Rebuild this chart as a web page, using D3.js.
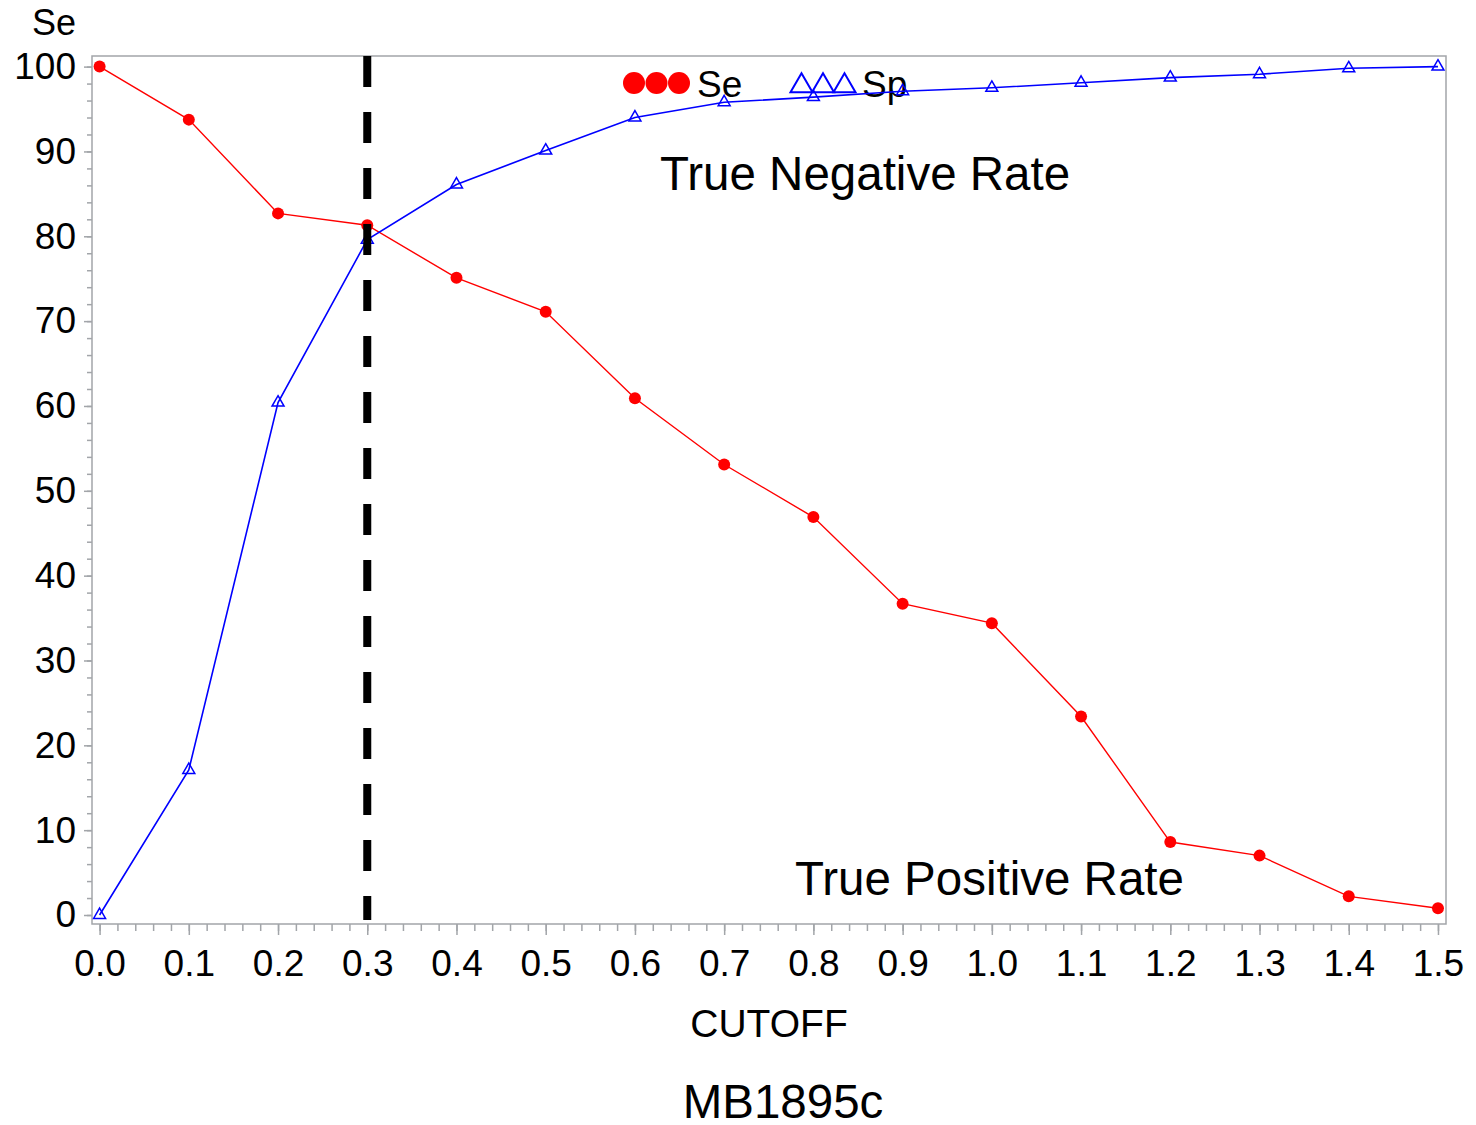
<!DOCTYPE html>
<html>
<head>
<meta charset="utf-8">
<title>MB1895c cutoff</title>
<script src="https://cdn.jsdelivr.net/npm/d3@7"></script>
<style>
  body { margin: 0; background: #fff; }
  svg text { font-family: "Liberation Sans", Arial, sans-serif; fill: #000; }
  .axis path, .axis line { stroke: #a2a5a9; stroke-width: 1.5; fill: none; }
  .axis text { font-size: 37px; }
</style>
</head>
<body>
<script>
// data
var cutoffs = [0.0, 0.1, 0.2, 0.3, 0.4, 0.5, 0.6, 0.7, 0.8, 0.9, 1.0, 1.1, 1.2, 1.3, 1.4, 1.5];
var se = [100, 93.75, 82.7, 81.3, 75.1, 71.1, 60.9, 53.1, 46.9, 36.7, 34.4, 23.4, 8.6, 7.0, 2.2, 0.8];
var sp = [0, 17.1, 60.4, 79.6, 86.1, 90.1, 94.0, 95.8, 96.4, 97.1, 97.5, 98.1, 98.7, 99.1, 99.8, 100];
var yTicks = [0, 10, 20, 30, 40, 50, 60, 70, 80, 90, 100];
var chosenCutoff = 0.3;

var w = 1476, h = 1125;
var pLeft = 92, pRight = 1446, pTop = 56, pBottom = 924;

var svg = d3.select("body").append("svg")
  .attr("width", w).attr("height", h);

var x = d3.scaleLinear().domain([-0.0085, 1.509]).range([pLeft, pRight]);
var y = d3.scaleLinear().domain([-1.06, 101.25]).range([pBottom, pTop]);

// minor ticks
var xMinor = d3.range(0, 76).map(function(i) { return i * 0.02; });
var yMinor = d3.range(0, 51).map(function(i) { return i * 2; });

svg.append("g").attr("class", "axis")
  .attr("transform", "translate(0," + pBottom + ")")
  .call(d3.axisBottom(x).tickValues(xMinor).tickSize(7).tickFormat(""))
  .select(".domain").remove();
svg.append("g").attr("class", "axis")
  .attr("transform", "translate(" + pLeft + ",0)")
  .call(d3.axisLeft(y).tickValues(yMinor).tickSize(5).tickFormat(""))
  .select(".domain").remove();

// major ticks + labels
svg.append("g").attr("class", "axis")
  .attr("transform", "translate(0," + pBottom + ")")
  .call(d3.axisBottom(x).tickValues(cutoffs).tickSize(11).tickPadding(15)
        .tickFormat(d3.format(".1f")))
  .select(".domain").remove();
svg.append("g").attr("class", "axis")
  .attr("transform", "translate(" + pLeft + ",0)")
  .call(d3.axisLeft(y).tickValues(yTicks).tickSize(8).tickPadding(8))
  .select(".domain").remove();

// frame
svg.append("rect")
  .attr("x", pLeft).attr("y", pTop)
  .attr("width", pRight - pLeft).attr("height", pBottom - pTop)
  .attr("fill", "none").attr("stroke", "#a2a5a9").attr("stroke-width", 1.5);

// legend
var legSe = [634, 656.5, 679];
svg.selectAll(".legse").data(legSe).enter().append("circle")
  .attr("cx", function(d) { return d; }).attr("cy", 83).attr("r", 11)
  .attr("fill", "#ff0000");
svg.append("text").attr("x", 697).attr("y", 97).attr("font-size", 37).text("Se");

var legSp = [801.5, 823, 844.5];
svg.selectAll(".legsp").data(legSp).enter().append("path")
  .attr("d", d3.symbol().type(d3.symbolTriangle).size(210))
  .attr("transform", function(d) { return "translate(" + d + ",86)"; })
  .attr("fill", "none").attr("stroke", "#0000ff").attr("stroke-width", 2);
svg.append("text").attr("x", 862).attr("y", 97).attr("font-size", 37).text("Sp");

// lines
var line = d3.line()
  .x(function(d, i) { return x(cutoffs[i]); })
  .y(function(d) { return y(d); });

svg.append("path").datum(se).attr("d", line)
  .attr("fill", "none").attr("stroke", "#ff0000").attr("stroke-width", 1.4);
svg.append("path").datum(sp).attr("d", line)
  .attr("fill", "none").attr("stroke", "#0000ff").attr("stroke-width", 1.6);

svg.selectAll(".se").data(se).enter().append("circle")
  .attr("cx", function(d, i) { return x(cutoffs[i]); })
  .attr("cy", function(d) { return y(d); })
  .attr("r", 6).attr("fill", "#ff0000");

svg.selectAll(".sp").data(sp).enter().append("path")
  .attr("d", d3.symbol().type(d3.symbolTriangle).size(62))
  .attr("transform", function(d, i) { return "translate(" + x(cutoffs[i]) + "," + y(d) + ")"; })
  .attr("fill", "none").attr("stroke", "#0000ff").attr("stroke-width", 1.5);

// cutoff line
svg.append("line")
  .attr("x1", x(chosenCutoff)).attr("x2", x(chosenCutoff))
  .attr("y1", pTop).attr("y2", pBottom - 4)
  .attr("stroke", "#000").attr("stroke-width", 8)
  .attr("stroke-dasharray", "31,25");

// annotations
svg.append("text").attr("x", 660).attr("y", 190).attr("font-size", 47.5).text("True Negative Rate");
svg.append("text").attr("x", 795).attr("y", 895).attr("font-size", 47.5).text("True Positive Rate");

// titles
svg.append("text").attr("x", 76).attr("y", 35).attr("text-anchor", "end")
  .attr("font-size", 36).text("Se");
svg.append("text").attr("x", 769).attr("y", 1037).attr("text-anchor", "middle")
  .attr("font-size", 39).text("CUTOFF");
svg.append("text").attr("x", 783).attr("y", 1118).attr("text-anchor", "middle")
  .attr("font-size", 47.5).text("MB1895c");
</script>
</body>
</html>
